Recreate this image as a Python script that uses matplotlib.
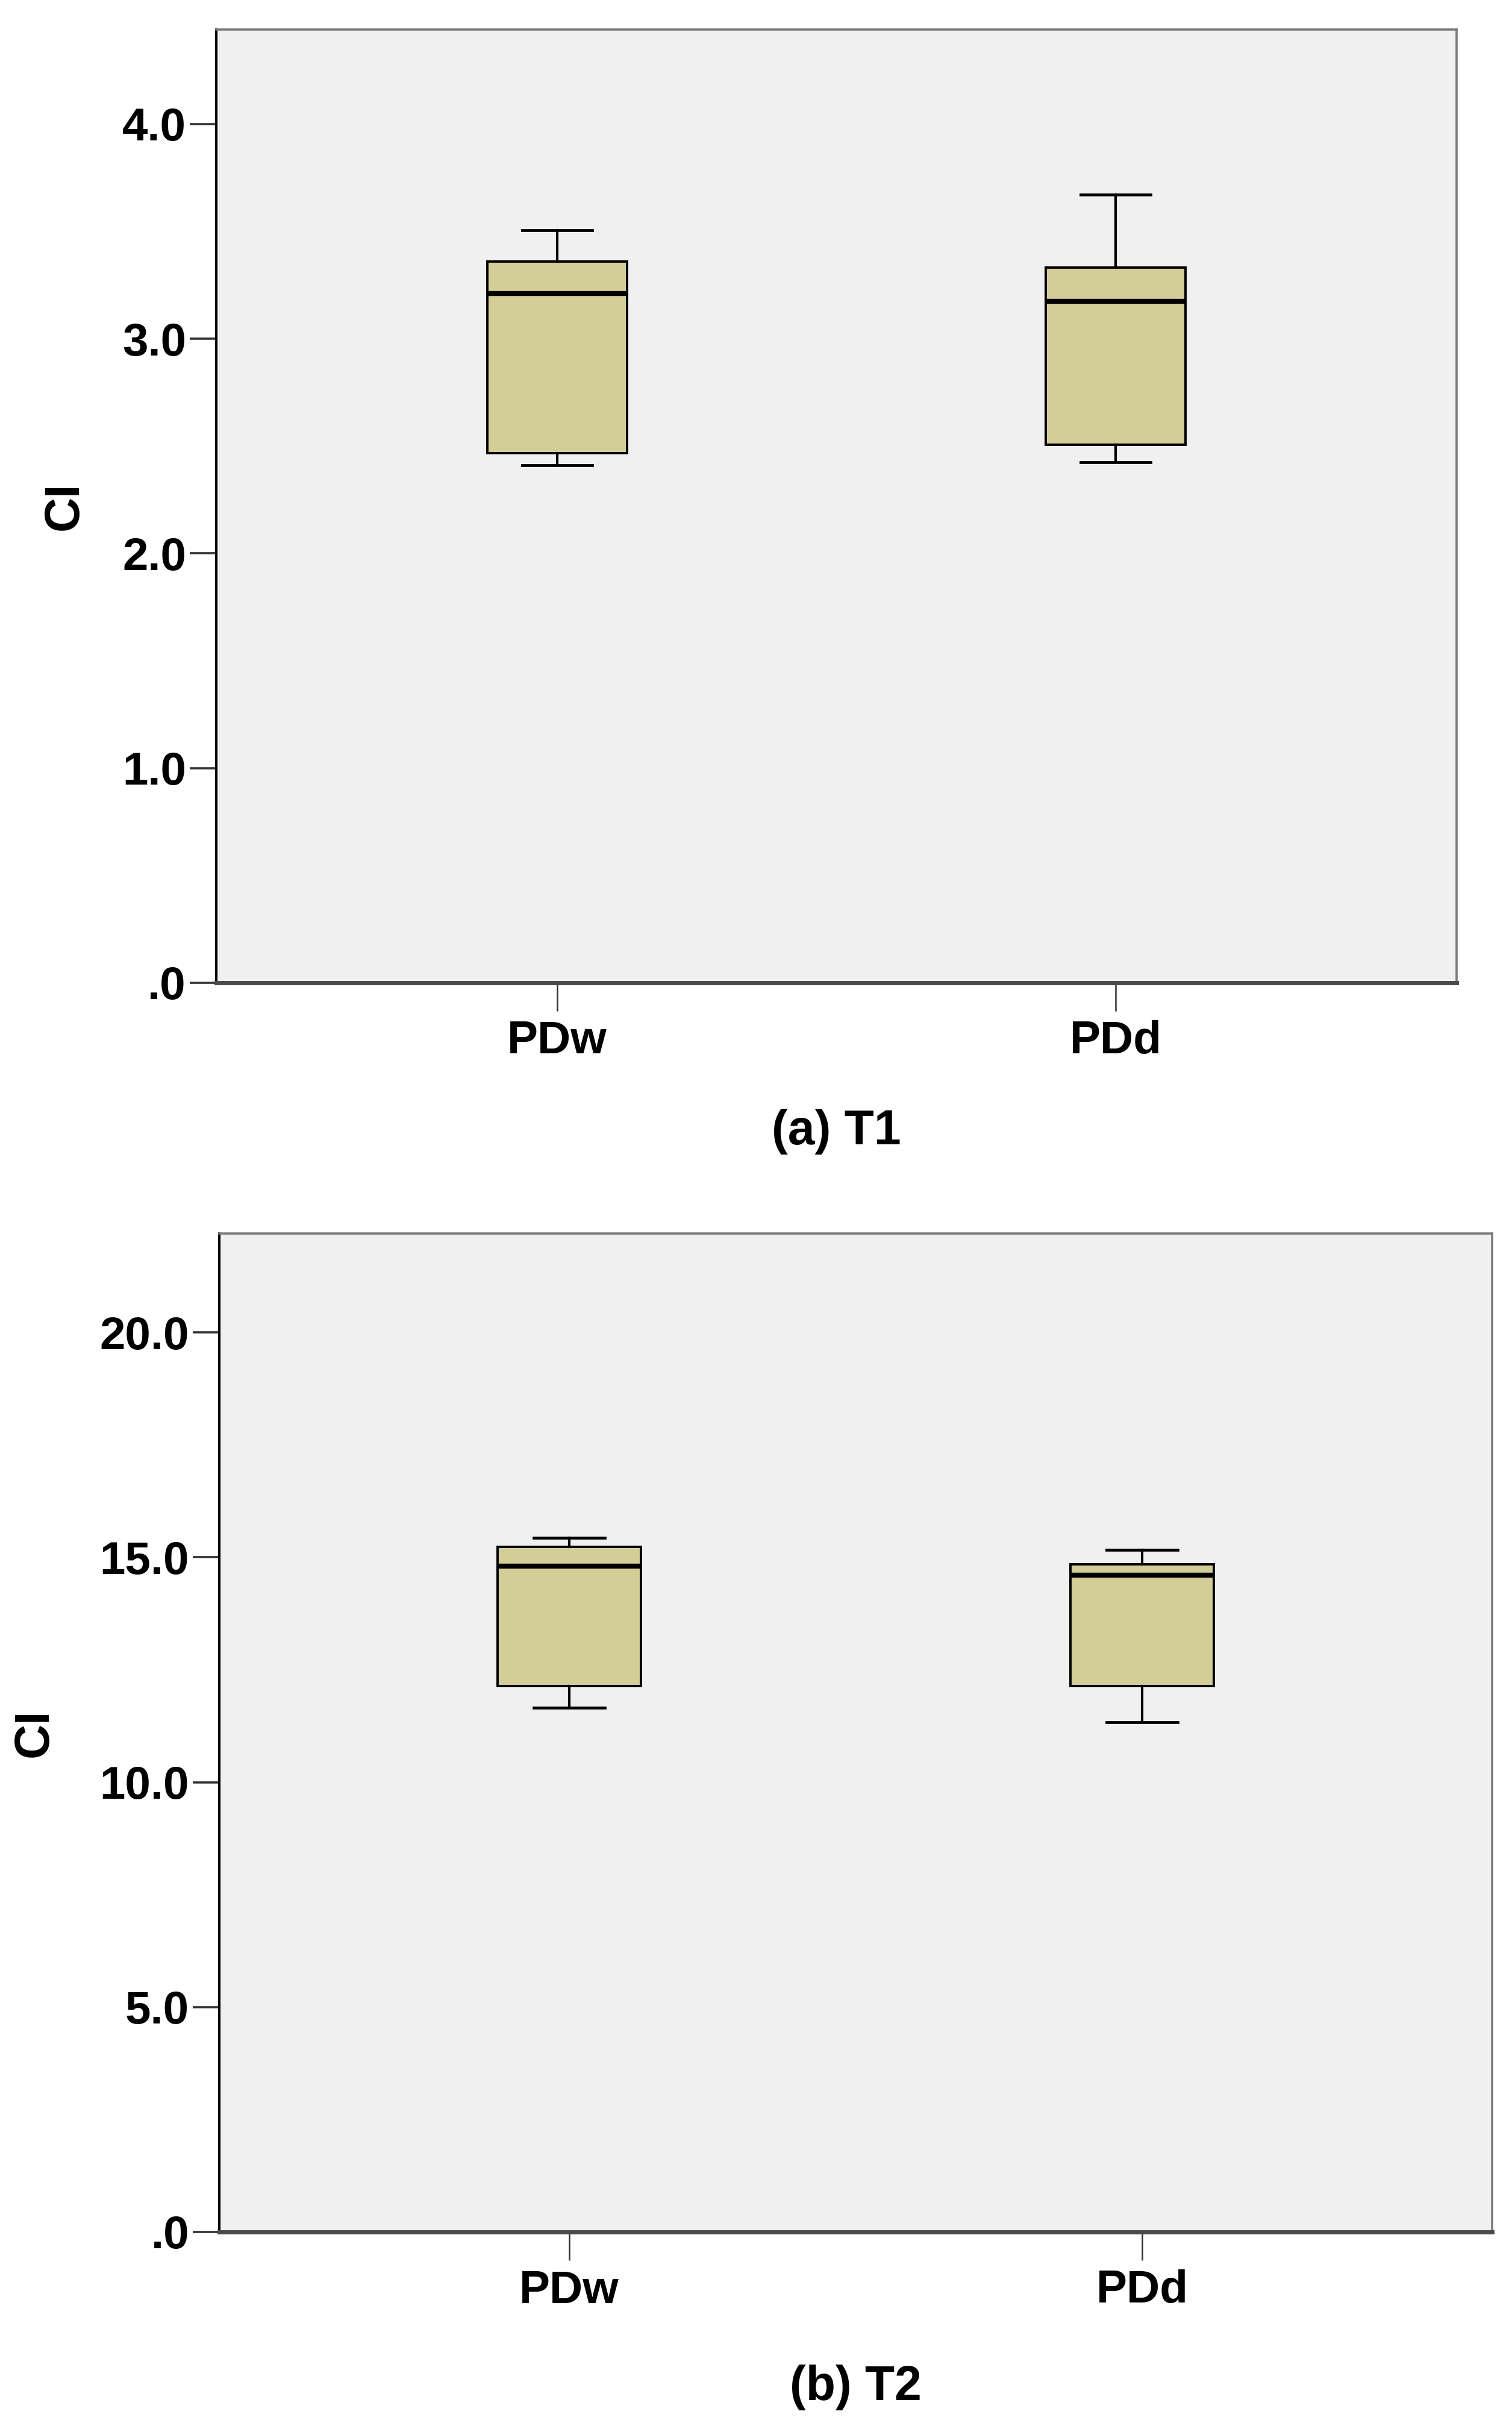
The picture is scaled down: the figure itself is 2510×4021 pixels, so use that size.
import matplotlib
matplotlib.use("Agg")
import matplotlib.pyplot as plt
from matplotlib.ticker import FixedLocator, FixedFormatter

plt.rcParams['font.family'] = ['Liberation Sans', 'DejaVu Sans']
plt.rcParams['font.weight'] = 'bold'

# ---- data ----
categories = ["PDw", "PDd"]

# panel (a) T1
t1_whislo = [2.41, 2.425]
t1_q1 = [2.466, 2.505]
t1_med = [3.21, 3.175]
t1_q3 = [3.36, 3.33]
t1_whishi = [3.505, 3.67]
t1_ticks = [0.0, 1.0, 2.0, 3.0, 4.0]
t1_ticklabels = [".0", "1.0", "2.0", "3.0", "4.0"]
t1_ymax = 4.44

# panel (b) T2
t2_whislo = [11.65, 11.34]
t2_q1 = [12.14, 12.14]
t2_med = [14.81, 14.60]
t2_q3 = [15.23, 14.85]
t2_whishi = [15.44, 15.17]
t2_ticks = [0.0, 5.0, 10.0, 15.0, 20.0]
t2_ticklabels = [".0", "5.0", "10.0", "15.0", "20.0"]
t2_ymax = 22.2

ylabel = "CI"
captions = ["(a) T1", "(b) T2"]

BOX_FILL = "#D3CE98"
BG = "#F0F0F0"

fig = plt.figure(figsize=(25.10, 40.21), dpi=100)
ax1 = fig.add_axes([359/2510, 1 - 1631/4021, (2418-359)/2510, (1631-49)/4021])
ax2 = fig.add_axes([364/2510, 1 - 3704/4021, (2477-364)/2510, (3704-2047)/4021])


def draw(ax, whislo, q1, med, q3, whishi, ticks, ticklabels, ymax, caption, ylab_x, cap_y):
    stats = []
    for i, c in enumerate(categories):
        stats.append(dict(label=c, whislo=whislo[i], q1=q1[i], med=med[i],
                          q3=q3[i], whishi=whishi[i], fliers=[]))
    ax.set_facecolor(BG)
    ax.bxp(stats, positions=[1, 2], widths=0.25, capwidths=0.125,
           showfliers=False, patch_artist=True,
           boxprops=dict(facecolor=BOX_FILL, edgecolor="black", linewidth=2.8),
           medianprops=dict(color="black", linewidth=6.0, solid_capstyle="butt"),
           whiskerprops=dict(color="black", linewidth=3.0),
           capprops=dict(color="black", linewidth=3.4))
    ax.set_xlim(0.389, 2.611)
    ax.set_ylim(0, ymax)
    ax.yaxis.set_major_locator(FixedLocator(ticks))
    ax.yaxis.set_major_formatter(FixedFormatter(ticklabels))
    ax.set_xticks([1, 2])
    ax.set_xticklabels(categories)
    ax.tick_params(axis="y", length=32, width=2.6, color="#333333",
                   labelsize=55, pad=4)
    ax.tick_params(axis="x", length=34, width=1.8, color="#333333",
                   labelsize=55, pad=11)
    for lab in ax.get_xticklabels() + ax.get_yticklabels():
        lab.set_fontweight("bold")
    ax.spines["left"].set_color("black")
    ax.spines["left"].set_linewidth(3.0)
    ax.spines["bottom"].set_color("#4a4a4a")
    ax.spines["bottom"].set_linewidth(5.0)
    for s in ("top", "right"):
        ax.spines[s].set_color("#7a7a7a")
        ax.spines[s].set_linewidth(2.6)
    ax.set_ylabel(ylabel, fontsize=58, fontweight="bold")
    ax.yaxis.label.set_va("center")
    ax.yaxis.set_label_coords(ylab_x, 0.5)
    ax.text(0.5, cap_y, caption, transform=ax.transAxes, ha="center",
            va="center", fontsize=58, fontweight="bold")


draw(ax1, t1_whislo, t1_q1, t1_med, t1_q3, t1_whishi, t1_ticks,
     t1_ticklabels, t1_ymax, captions[0], (108-359)/2059, -0.156)
draw(ax2, t2_whislo, t2_q1, t2_med, t2_q3, t2_whishi, t2_ticks,
     t2_ticklabels, t2_ymax, captions[1], (58-364)/2113, -0.156)

fig.savefig("out.png", dpi=100, facecolor="white")
